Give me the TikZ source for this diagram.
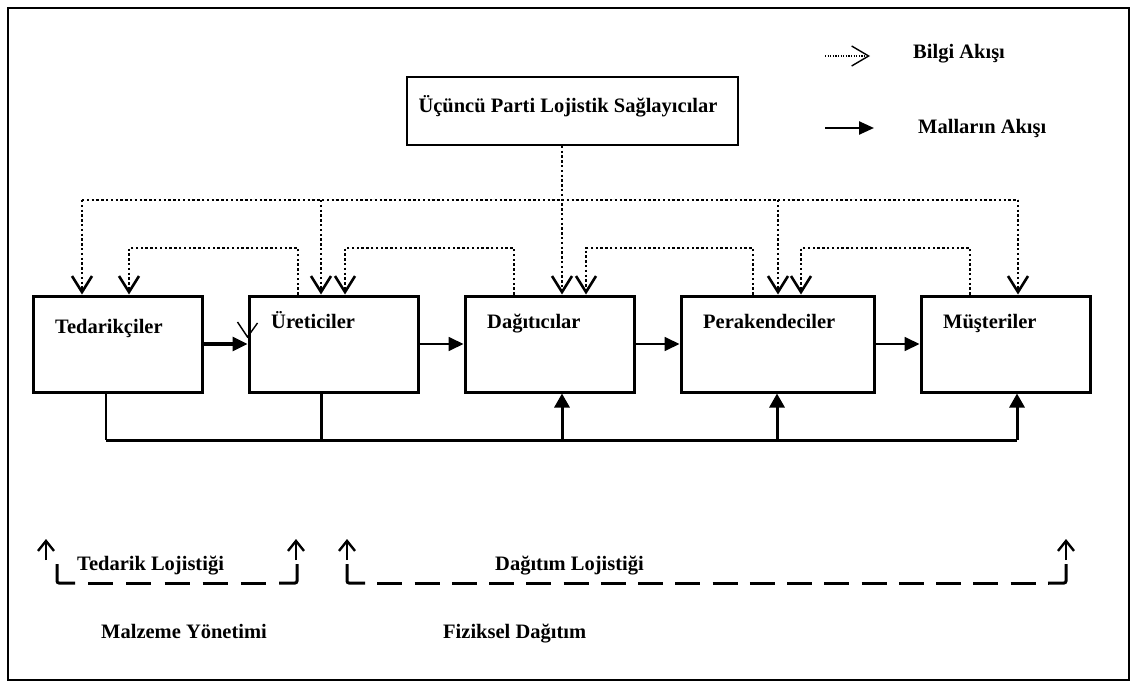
\documentclass[tikz,border=0pt]{standalone}
\usepackage{fontspec}
\setmainfont{Liberation Serif}
\usetikzlibrary{arrows.meta}
\begin{document}
\begin{tikzpicture}[x=1pt,y=-1pt,
  every node/.style={font=\fontsize{20.5}{24}\selectfont\bfseries, inner sep=0pt},
  box/.style={draw, line width=3pt, minimum height=96pt},
  lbl/.style={anchor=base west},
  info/.style={line width=2.4pt, dash pattern=on 2.4pt off 2.4pt},
  infotip/.style={info, -{Straight Barb[length=16pt,width=20pt,line width=2.6pt]}},
  goods/.style={line width=1.8pt, -{Triangle[length=15pt,width=14pt]}},
  goodsthick/.style={line width=3.2pt, -{Triangle[length=15pt,width=14pt]}},
  bus/.style={line width=3pt},
  busup/.style={line width=3pt, -{Triangle[length=14pt,width=15pt]}},
  upmark/.style={line width=2.4pt, -{Straight Barb[length=10pt,width=16pt,line width=2.4pt]}},
  bracket/.style={line width=3pt, rounded corners=2pt},
]
\useasboundingbox (0,0) rectangle (1140,682);

% outer frame
\draw[line width=2.4pt] (8,8) rectangle (1129,680);

% legend
\coordinate (l1s) at (825,56);
\coordinate (l1e) at (870,56);
\coordinate (l2s) at (825,128);
\coordinate (l2e) at (874,128);
\draw[line width=1.2pt, dash pattern=on 1.2pt off 1.4pt,
      -{Straight Barb[length=17pt,width=20pt,line width=1.4pt]}] (l1s) -- (l1e);
\node[lbl] (bilgi) at (913,59) {Bilgi Akışı};
\draw[line width=2.4pt, -{Triangle[length=15pt,width=13pt]}] (l2s) -- (l2e);
\node[lbl] (mallar) at (918,134) {Malların Akışı};

% third party logistics provider
\node[draw, line width=1.5pt, minimum width=331pt, minimum height=68pt] (tpl) at (572.5,111) {};
\node[anchor=base] (tplT) at (568,113) {Üçüncü Parti Lojistik Sağlayıcılar};

% chain members
\node[box, minimum width=169pt] (ted) at (117.5,344) {};
\node[box, minimum width=169pt] (ure) at (333.5,344) {};
\node[box, minimum width=169pt] (dag) at (549.5,344) {};
\node[box, minimum width=193pt] (per) at (777.5,344) {};
\node[box, minimum width=169pt] (mus) at (1005.5,344) {};

\node[lbl] (tedT) at (55,333) {Tedarikçiler};
\node[lbl] (ureT) at (271,328) {Üreticiler};
\node[lbl] (dagT) at (487,328) {Dağıtıcılar};
\node[lbl] (perT) at (703,328) {Perakendeciler};
\node[lbl] (musT) at (943,328) {Müşteriler};

% information flow from the provider
\coordinate (hub) at (562,200);
\coordinate (jTed) at (82,200);
\coordinate (jUre) at (321,200);
\coordinate (jPer) at (778,200);
\coordinate (jMus) at (1018,200);
\draw[infotip] (tpl.south -| hub) -- (dag.north -| hub);
\draw[info] (jTed) -- (jMus);
\draw[infotip] (jTed) -- (ted.north -| jTed);
\draw[infotip] (jUre) -- (ure.north -| jUre);
\draw[infotip] (jPer) -- (per.north -| jPer);
\draw[infotip] (jMus) -- (mus.north -| jMus);

% information flow between neighbours
\draw[infotip] ([xshift=-35.5pt]ure.north) |- (129,248) -- ([xshift=11.5pt]ted.north);
\draw[infotip] ([xshift=-35.5pt]dag.north) |- (345,248) -- ([xshift=11.5pt]ure.north);
\draw[infotip] ([xshift=-24.5pt]per.north) |- (586,248) -- ([xshift=36.5pt]dag.north);
\draw[infotip] ([xshift=-35.5pt]mus.north) |- (801,248) -- ([xshift=23.5pt]per.north);

% flow of goods
\draw[goodsthick] (ted.east) -- (ure.west);
\draw[goods] (ure.east) -- (dag.west);
\draw[goods] (dag.east) -- (per.west);
\draw[goods] (per.east) -- (mus.west);
\draw[line width=1.4pt] ([shift={(-10pt,22pt)}]ure.west) -- ([yshift=7pt]ure.west) -- ([shift={(10pt,21pt)}]ure.west);

% physical distribution bus
\coordinate (busL) at (106,440);
\coordinate (busU) at (321,440);
\coordinate (busD) at (562,440);
\coordinate (busP) at (777,440);
\coordinate (busR) at (1017,440);
\draw[line width=1.8pt] (ted.south -| busL) -- (busL);
\draw[bus] (ure.south -| busU) -- (busU);
\draw[bus] (busL) -- (busR);
\draw[busup] (busD) -- (dag.south -| busD);
\draw[busup] (busP) -- (per.south -| busP);
\draw[busup] (busR) -- (mus.south -| busR);

% supply side bracket
\coordinate (a1) at (46,560);
\coordinate (a2) at (296,560);
\draw[upmark] (a1) -- ++(0,-21);
\draw[upmark] (a2) -- ++(0,-21);
\draw[bracket] (57,564) |- (75,583);
\draw[bracket] (279,583) -| (297,564);
\draw[line width=3pt, dash pattern=on 25pt off 13.17pt, dash phase=25pt] (75,583) -- (279,583);
\node[lbl] (supT) at (77,570) {Tedarik Lojistiği};
\node[lbl] (matT) at (101,638) {Malzeme Yönetimi};

% distribution side bracket
\coordinate (a3) at (347,560);
\coordinate (a4) at (1066,560);
\draw[upmark] (a3) -- ++(0,-21);
\draw[upmark] (a4) -- ++(0,-21);
\draw[bracket] (347,564) |- (365,583);
\draw[bracket] (1048,583) -| (1066,564);
\draw[line width=3pt, dash pattern=on 25pt off 12.26pt, dash phase=25pt] (365,583) -- (1048,583);
\node[lbl] (disT) at (495,570) {Dağıtım Lojistiği};
\node[lbl] (phyT) at (443,638) {Fiziksel Dağıtım};
\end{tikzpicture}
\end{document}
